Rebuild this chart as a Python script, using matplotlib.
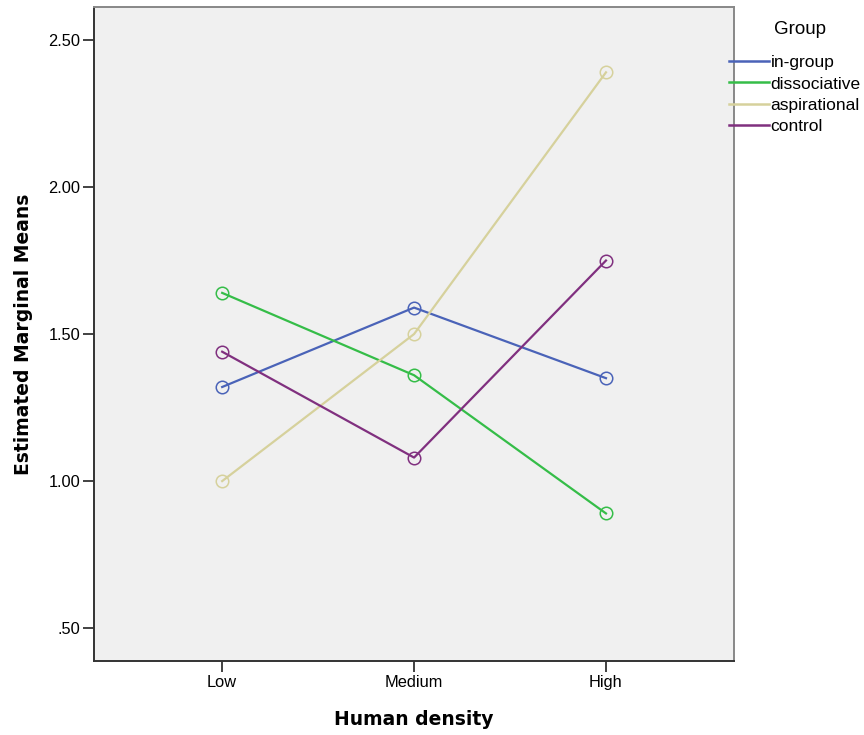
import matplotlib.pyplot as plt
import numpy as np

# Estimated marginal means
density = ['Low', 'Medium', 'High']
groups = ['in-group', 'dissociative', 'aspirational', 'control']
in_group = [1.32, 1.59, 1.35]
dissociative = [1.64, 1.36, 0.89]
aspirational = [1.00, 1.50, 2.39]
control = [1.44, 1.08, 1.75]
colors = ['#4a63b8', '#35bd48', '#d6d19c', '#80307f']

yticks = [0.5, 1.0, 1.5, 2.0, 2.5]
ytick_labels = ['.50', '1.00', '1.50', '2.00', '2.50']

plt.rcParams['font.family'] = ['Liberation Sans', 'DejaVu Sans']

fig = plt.figure(figsize=(8.64, 7.35), dpi=100)
ax = fig.add_axes([0.109, 0.101, 0.7405, 0.889])
ax.set_facecolor('#f0f0f0')

x = np.arange(len(density))
for vals, name, c in zip([in_group, dissociative, aspirational, control], groups, colors):
    ax.plot(x, vals, color=c, lw=1.6, marker='o', ms=9, mfc='none', mew=1.1, label=name)

ax.set_xlim(-0.667, 2.667)
ax.set_ylim(0.389, 2.611)
ax.set_xticks(x)
ax.set_xticklabels(density)
ax.set_yticks(yticks)
ax.set_yticklabels(ytick_labels)
ax.tick_params(length=8, width=1.3, color='#333333', labelsize=11.8, pad=2)

for s in ['left', 'bottom']:
    ax.spines[s].set_color('#333333')
    ax.spines[s].set_linewidth(1.4)
for s in ['top', 'right']:
    ax.spines[s].set_color('#888888')
    ax.spines[s].set_linewidth(1.4)

ax.set_xlabel('Human density', family='DejaVu Sans', fontweight='bold', fontsize=13.5, labelpad=15)
ax.set_ylabel('Estimated Marginal Means', family='DejaVu Sans', fontweight='bold', fontsize=13.5, labelpad=11)

# legend title sits well above the entries, so it is placed on its own
fig.text(800 / 864, 1 - 30 / 735, 'Group', fontsize=13.5, ha='center', va='center')
leg = fig.legend(loc='upper left', bbox_to_anchor=(729 / 864, 1 - 55 / 735), frameon=False,
                 fontsize=12.5, handlelength=2.3, handletextpad=0.1, labelspacing=0.36,
                 borderpad=0, borderaxespad=0)
for h in leg.legend_handles:
    h.set_marker('')
    h.set_linewidth(1.8)

fig.savefig('out.png', dpi=100)
